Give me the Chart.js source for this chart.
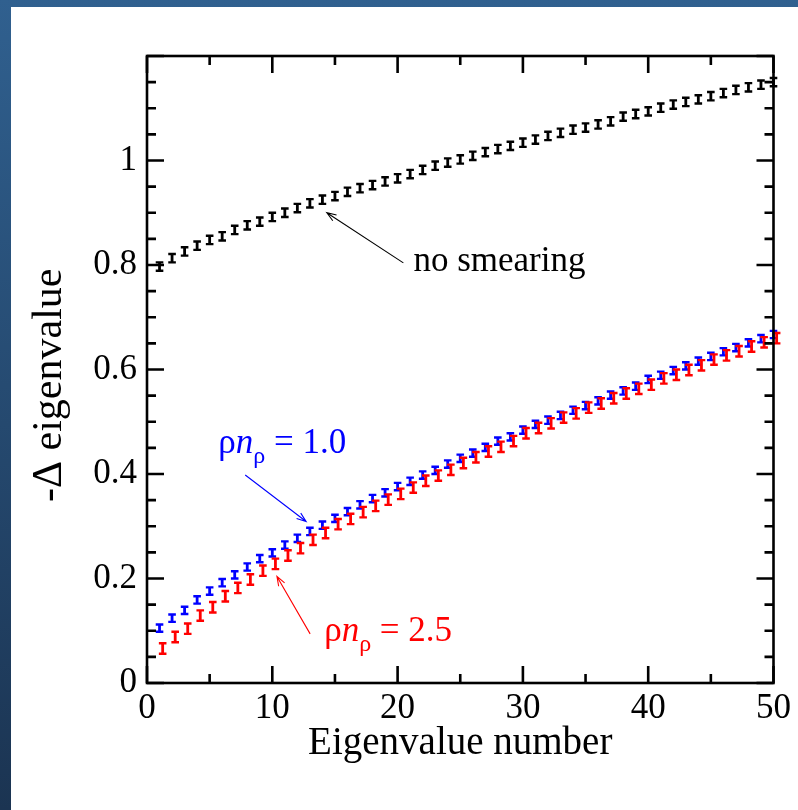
<!DOCTYPE html>
<html>
<head>
<meta charset="utf-8">
<script src="https://cdn.jsdelivr.net/npm/chart.js@4.4.1/dist/chart.umd.min.js"></script>
<style>
  html, body { margin: 0; padding: 0; }
  body { width: 798px; height: 810px; position: relative; overflow: hidden;
         background: linear-gradient(to bottom, #30608f, #1b3452); }
  #panel { position: absolute; left: 11px; top: 7px; width: 787px; height: 803px; background: #fff; }
  canvas { display: block; }
</style>
</head>
<body>
<div id="panel"><canvas id="eigenChart" width="787" height="803"></canvas></div>
<script>
// eigenvalue index (x) and -delta eigenvalue for each smearing level
const eigenNumbers = [1, 2, 3, 4, 5, 6, 7, 8, 9, 10, 11, 12, 13, 14, 15, 16, 17, 18, 19, 20,
    21, 22, 23, 24, 25, 26, 27, 28, 29, 30, 31, 32, 33, 34, 35, 36, 37, 38, 39, 40,
    41, 42, 43, 44, 45, 46, 47, 48, 49, 50];

const noSmearing = [0.797, 0.813, 0.826, 0.837, 0.848, 0.855, 0.867, 0.876, 0.883, 0.892,
    0.900, 0.909, 0.918, 0.925, 0.932, 0.940, 0.947, 0.953, 0.960, 0.966,
    0.974, 0.982, 0.990, 0.996, 1.002, 1.009, 1.016, 1.022, 1.028, 1.034,
    1.040, 1.047, 1.053, 1.059, 1.063, 1.069, 1.075, 1.084, 1.089, 1.094,
    1.101, 1.107, 1.112, 1.117, 1.123, 1.129, 1.135, 1.140, 1.145, 1.150];

const smear10 = [0.105, 0.124, 0.139, 0.159, 0.176, 0.192, 0.207, 0.222, 0.238, 0.249,
    0.264, 0.277, 0.290, 0.302, 0.315, 0.328, 0.341, 0.353, 0.364, 0.376,
    0.386, 0.398, 0.407, 0.419, 0.430, 0.440, 0.451, 0.463, 0.471, 0.484,
    0.495, 0.503, 0.512, 0.522, 0.531, 0.540, 0.551, 0.559, 0.568, 0.581,
    0.589, 0.598, 0.607, 0.616, 0.625, 0.634, 0.642, 0.651, 0.659, 0.667];

const smear25 = [0.066, 0.088, 0.104, 0.129, 0.145, 0.166, 0.182, 0.198, 0.215, 0.228,
    0.244, 0.258, 0.274, 0.287, 0.304, 0.314, 0.327, 0.339, 0.351, 0.362,
    0.374, 0.387, 0.397, 0.408, 0.421, 0.432, 0.443, 0.452, 0.463, 0.478,
    0.488, 0.497, 0.508, 0.516, 0.527, 0.535, 0.545, 0.554, 0.563, 0.571,
    0.583, 0.590, 0.599, 0.608, 0.619, 0.627, 0.635, 0.644, 0.652, 0.660];

const noSmearingErr = 0.008;
const smear10Err = 0.007;
const smear25Err = 0.010;
const smear25Shift = 0.25;   // red points sit slightly right of the blue ones

const xTickLabels = ['0', '10', '20', '30', '40', '50'];
const yTickLabels = ['0', '0.2', '0.4', '0.6', '0.8', '1'];

const SERIF = '"Liberation Serif", "DejaVu Serif", serif';

// text notes with arrows, positioned in data units
const notes = [
    { color: '#000', at: [21.26, 0.788], parts: [{ t: 'no smearing' }],
      arrow: [[20.46, 0.804], [14.35, 0.900]] },
    { color: '#0000ff', at: [5.69, 0.441], parts: [{ t: 'ρ' }, { t: 'n', italic: true }, { t: 'ρ', sub: true }, { t: ' = 1.0' }],
      arrow: [[7.84, 0.398], [12.70, 0.309]] },
    { color: '#ff0000', at: [14.14, 0.080], parts: [{ t: 'ρ' }, { t: 'n', italic: true }, { t: 'ρ', sub: true }, { t: ' = 2.5' }],
      arrow: [[13.02, 0.094], [10.37, 0.204]] }
];

function points(xs, ys, shift) {
    return xs.map((x, i) => ({ x: x + shift, y: ys[i] }));
}

const errorBars = {
    id: 'errorBars',
    afterDatasetsDraw(chart) {
        const ctx = chart.ctx;
        const yScale = chart.scales.y;
        ctx.save();
        chart.data.datasets.forEach((ds, i) => {
            const meta = chart.getDatasetMeta(i);
            ctx.strokeStyle = ds.borderColor;
            meta.data.forEach((el, j) => {
                const v = ds.data[j].y;
                const top = yScale.getPixelForValue(v + ds.errorBar);
                const bot = yScale.getPixelForValue(v - ds.errorBar);
                ctx.lineWidth = 2.8;
                ctx.beginPath();
                ctx.moveTo(el.x, top); ctx.lineTo(el.x, bot);
                ctx.stroke();
                ctx.lineWidth = 2.4;
                ctx.beginPath();
                ctx.moveTo(el.x - 3.8, top); ctx.lineTo(el.x + 3.8, top);
                ctx.moveTo(el.x - 3.8, bot); ctx.lineTo(el.x + 3.8, bot);
                ctx.stroke();
            });
        });
        ctx.restore();
    }
};

const frameAndTicks = {
    id: 'frameAndTicks',
    afterDraw(chart) {
        const ctx = chart.ctx;
        const { left, right, top, bottom } = chart.chartArea;
        const xs = chart.scales.x, ys = chart.scales.y;
        ctx.save();
        ctx.strokeStyle = '#000';
        ctx.lineWidth = 2.6;
        ctx.beginPath();
        xs.ticks.forEach(t => {
            const px = xs.getPixelForValue(t.value);
            const len = t.value % 10 === 0 ? 17 : 9;
            ctx.moveTo(px, bottom); ctx.lineTo(px, bottom - len);
            ctx.moveTo(px, top); ctx.lineTo(px, top + len);
        });
        ys.ticks.forEach(t => {
            const py = ys.getPixelForValue(t.value);
            const len = Math.round(t.value * 100) % 20 === 0 ? 17 : 9;
            ctx.moveTo(left, py); ctx.lineTo(left + len, py);
            ctx.moveTo(right, py); ctx.lineTo(right - len, py);
        });
        ctx.stroke();
        ctx.strokeRect(left, top, right - left, bottom - top);

        // notes
        notes.forEach(n => {
            ctx.fillStyle = n.color;
            ctx.strokeStyle = n.color;
            let x = xs.getPixelForValue(n.at[0]);
            const y = ys.getPixelForValue(n.at[1]);
            ctx.textBaseline = 'alphabetic';
            ctx.textAlign = 'left';
            n.parts.forEach(p => {
                const size = p.sub ? 24 : 35;
                ctx.font = (p.italic ? 'italic ' : '') + size + 'px ' + SERIF;
                ctx.fillText(p.t, x, p.sub ? y + 10 : y);
                x += ctx.measureText(p.t).width;
            });
            const [x1, y1] = [xs.getPixelForValue(n.arrow[0][0]), ys.getPixelForValue(n.arrow[0][1])];
            const [x2, y2] = [xs.getPixelForValue(n.arrow[1][0]), ys.getPixelForValue(n.arrow[1][1])];
            const ang = Math.atan2(y2 - y1, x2 - x1);
            ctx.lineWidth = 1.1;
            ctx.beginPath();
            ctx.moveTo(x1, y1); ctx.lineTo(x2, y2);
            ctx.moveTo(x2 - 10 * Math.cos(ang - 0.35), y2 - 10 * Math.sin(ang - 0.35));
            ctx.lineTo(x2, y2);
            ctx.lineTo(x2 - 10 * Math.cos(ang + 0.35), y2 - 10 * Math.sin(ang + 0.35));
            ctx.stroke();
        });
        ctx.restore();
    }
};

new Chart(document.getElementById('eigenChart'), {
    type: 'scatter',
    data: {
        datasets: [
            { label: 'no smearing', data: points(eigenNumbers, noSmearing, 0), borderColor: '#000', errorBar: noSmearingErr },
            { label: 'ρnρ = 1.0', data: points(eigenNumbers, smear10, 0), borderColor: '#0000ff', errorBar: smear10Err },
            { label: 'ρnρ = 2.5', data: points(eigenNumbers, smear25, smear25Shift), borderColor: '#ff0000', errorBar: smear25Err }
        ]
    },
    options: {
        responsive: false,
        animation: false,
        devicePixelRatio: 1,
        elements: { point: { radius: 0, hoverRadius: 0 } },
        layout: { padding: { left: 0, top: 49, right: 24.5, bottom: 0 } },
        plugins: { legend: { display: false }, tooltip: { enabled: false } },
        scales: {
            x: {
                type: 'linear', min: 0, max: 50,
                grid: { display: false, drawTicks: false },
                border: { display: false },
                afterFit(scale) { scale.height = 127; },
                ticks: {
                    stepSize: 5, autoSkip: false, maxRotation: 0, padding: 5,
                    color: '#000', font: { family: SERIF, size: 35 },
                    callback: v => xTickLabels.includes(String(v)) ? String(v) : ''
                },
                title: { display: true, text: 'Eigenvalue number', color: '#000',
                         font: { family: SERIF, size: 39 }, padding: { bottom: 43 } }
            },
            y: {
                type: 'linear', min: 0, max: 1.2,
                grid: { display: false, drawTicks: false },
                border: { display: false },
                afterFit(scale) { scale.width = 136; },
                ticks: {
                    stepSize: 0.05, autoSkip: false, padding: 10,
                    color: '#000', font: { family: SERIF, size: 35 },
                    callback: v => {
                        const s = String(Math.round(v * 100) / 100);
                        return yTickLabels.includes(s) ? s : '';
                    }
                },
                // trailing spaces nudge the rotated title down to where the reference has it
                title: { display: true, text: '-Δ eigenvalue   ', color: '#000',
                         font: { family: SERIF, size: 42 }, padding: { top: 14 } }
            }
        }
    },
    plugins: [errorBars, frameAndTicks]
});
</script>
</body>
</html>
